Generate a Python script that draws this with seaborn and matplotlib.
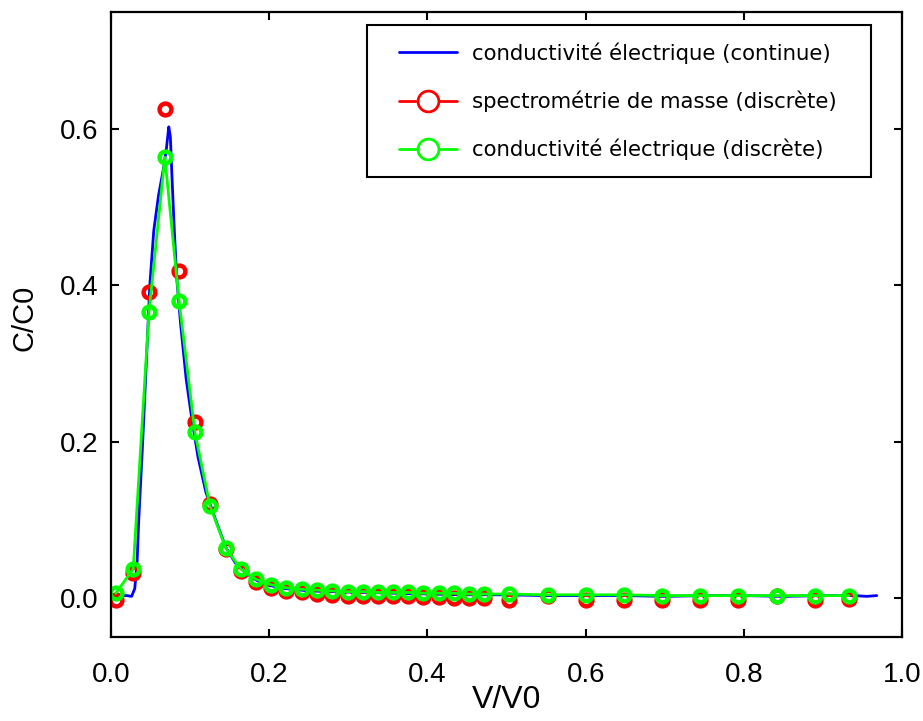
import matplotlib
matplotlib.use('Agg')
import matplotlib.pyplot as plt
from matplotlib.lines import Line2D
from matplotlib.patches import Rectangle
import seaborn as sns

# ---- données ----
v_cont = [0.004, 0.012, 0.020, 0.026, 0.030, 0.033, 0.035, 0.040, 0.045, 0.049,
          0.054, 0.060, 0.066, 0.070, 0.073, 0.075, 0.077, 0.080, 0.083, 0.088,
          0.095, 0.102, 0.110, 0.120, 0.134, 0.145, 0.157, 0.170, 0.185, 0.200,
          0.220, 0.250, 0.280, 0.320, 0.360, 0.400, 0.450, 0.500, 0.550, 0.600,
          0.650, 0.700, 0.750, 0.800, 0.850, 0.900, 0.940, 0.955, 0.968]
c_cont = [0.004, 0.003, 0.003, 0.002, 0.012, 0.047, 0.099, 0.200, 0.310, 0.400,
          0.470, 0.515, 0.548, 0.575, 0.603, 0.590, 0.540, 0.470, 0.410, 0.350,
          0.280, 0.230, 0.180, 0.135, 0.095, 0.065, 0.045, 0.032, 0.022, 0.016,
          0.012, 0.009, 0.008, 0.007, 0.006, 0.005, 0.004, 0.004, 0.003, 0.003,
          0.003, 0.002, 0.003, 0.003, 0.002, 0.003, 0.003, 0.002, 0.003]

v_disc = [0.006, 0.028, 0.048, 0.068, 0.086, 0.106, 0.125, 0.145, 0.164, 0.183,
          0.202, 0.221, 0.241, 0.260, 0.279, 0.299, 0.318, 0.337, 0.356, 0.376,
          0.395, 0.414, 0.433, 0.453, 0.472, 0.503, 0.552, 0.600, 0.649, 0.697,
          0.745, 0.793, 0.842, 0.890, 0.933]
c_masse = [-0.003, 0.032, 0.392, 0.626, 0.419, 0.225, 0.120, 0.063, 0.034, 0.020,
           0.013, 0.009, 0.007, 0.005, 0.004, 0.003, 0.003, 0.002, 0.002, 0.002,
           0.001, 0.001, 0.000, 0.000, 0.000, -0.003, 0.002, -0.003, -0.002, -0.002,
           -0.002, -0.002, 0.002, -0.002, -0.001]
c_cond = [0.006, 0.037, 0.366, 0.564, 0.380, 0.212, 0.118, 0.064, 0.037, 0.024,
          0.017, 0.013, 0.011, 0.010, 0.009, 0.008, 0.008, 0.007, 0.007, 0.007,
          0.006, 0.006, 0.006, 0.005, 0.005, 0.005, 0.004, 0.004, 0.004, 0.003,
          0.003, 0.003, 0.003, 0.003, 0.003]

labels = ['conductivité électrique (continue)',
          'spectrométrie de masse (discrète)',
          'conductivité électrique (discrète)']

x_ticks = [0.0, 0.2, 0.4, 0.6, 0.8, 1.0]
y_ticks = [0.0, 0.2, 0.4, 0.6]

# ---- style ----
sns.set_style('ticks')
plt.rcParams['font.family'] = ['Liberation Sans', 'DejaVu Sans']
plt.rcParams['text.color'] = 'black'
plt.rcParams['axes.labelcolor'] = 'black'

fig = plt.figure(figsize=(9.23, 7.21), dpi=100)
ax = fig.add_axes([0.1203, 0.1165, 0.8570, 0.8669])

bleu, rouge, vert = '#0000ff', '#ff0000', '#00ff00'
ms, mew = 8.5, 3.2

sns.lineplot(x=v_cont, y=c_cont, ax=ax, color=bleu, lw=2.0, sort=False)
sns.lineplot(x=v_disc, y=c_masse, ax=ax, color=rouge, linestyle='', marker='o',
             markersize=ms, markerfacecolor='none', markeredgecolor=rouge,
             markeredgewidth=mew, sort=False)
sns.lineplot(x=v_disc, y=c_cond, ax=ax, color=vert, lw=2.0, marker='o',
             markersize=ms, markerfacecolor='none', markeredgecolor=vert,
             markeredgewidth=mew, sort=False)

ax.set_xlim(0, 1.0)
ax.set_ylim(-0.05, 0.75)
ax.set_xticks(x_ticks)
ax.set_yticks(y_ticks)
ax.set_xticklabels([f'{t:.1f}' for t in x_ticks])
ax.set_yticklabels([f'{t:.1f}' for t in y_ticks])
ax.tick_params(direction='in', length=6, width=1.5, labelsize=20,
               top=True, right=True, colors='black')
ax.tick_params(axis='x', pad=18)
ax.tick_params(axis='y', pad=9)
for s in ax.spines.values():
    s.set_visible(True)
    s.set_linewidth(1.6)
    s.set_color('black')

ax.set_xlabel('V/V0', fontsize=23)
ax.xaxis.set_label_coords(0.5, -0.076)
ax.set_ylabel('C/C0', fontsize=21,
              family=['Liberation Sans Narrow', 'Liberation Sans'])
ax.yaxis.set_label_coords(-0.092, 0.51)

# légende : cadre dessiné à part (marges plus larges à gauche et à droite)
handles = [
    Line2D([], [], color=bleu, lw=2.0),
    Line2D([], [], color=rouge, lw=2.0, marker='o', markersize=15,
           markerfacecolor='white', markeredgecolor=rouge, markeredgewidth=2.0),
    Line2D([], [], color=vert, lw=2.0, marker='o', markersize=15,
           markerfacecolor='white', markeredgecolor=vert, markeredgewidth=2.0),
]
cadre = Rectangle((367 / 923, 1 - 177 / 721), 504 / 923, 152 / 721,
                  transform=fig.transFigure, facecolor='white',
                  edgecolor='black', lw=1.5, zorder=4)
ax.add_patch(cadre)
leg = ax.legend(handles, labels, loc='upper left',
                bbox_to_anchor=(399 / 923, 1 - 42 / 721),
                bbox_transform=fig.transFigure, borderaxespad=0, borderpad=0,
                prop={'family': 'DejaVu Sans', 'size': 15.3},
                handlelength=2.75, handletextpad=0.7, labelspacing=1.27,
                frameon=False)
leg.set_zorder(5)
for t in leg.get_texts():
    t.set_color('black')

fig.savefig('out.png', dpi=100)
